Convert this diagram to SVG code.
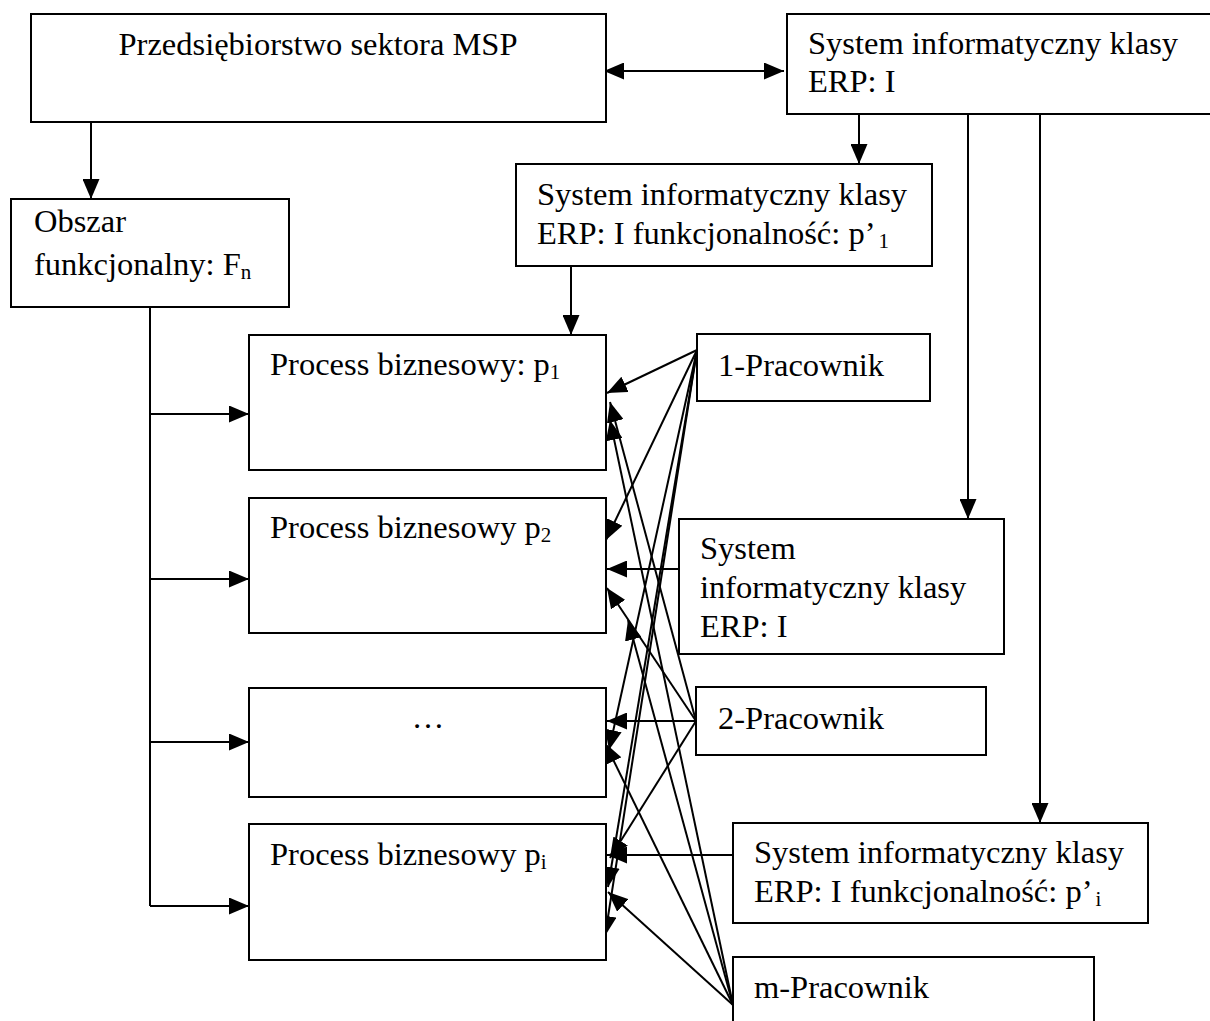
<svg xmlns="http://www.w3.org/2000/svg" width="1210" height="1021" viewBox="0 0 1210 1021">
<style>
.box{fill:#fff;stroke:#000;stroke-width:2}
.t{font-family:"Liberation Serif","Times New Roman",serif;font-size:32.5px;fill:#000}
.sub{font-size:21px}
.c{fill:none;stroke:#000;stroke-width:2}
</style>
<defs>
<marker id="ah" markerUnits="userSpaceOnUse" markerWidth="20" markerHeight="17" refX="20" refY="8.5" orient="auto-start-reverse" viewBox="0 0 20 17"><path d="M0,0 L20,8.5 L0,17 z" fill="#000"/></marker>
</defs>
<rect width="1210" height="1021" fill="#fff"/>

<g id="connectors">
<line class="c" x1="604" y1="71" x2="784" y2="71" marker-start="url(#ah)" marker-end="url(#ah)"/>
<line class="c" x1="91" y1="122" x2="91" y2="199" marker-end="url(#ah)"/>
<line class="c" x1="859" y1="114" x2="859" y2="164" marker-end="url(#ah)"/>
<line class="c" x1="571" y1="266" x2="571" y2="335" marker-end="url(#ah)"/>
<line class="c" x1="968" y1="114" x2="968" y2="519" marker-end="url(#ah)"/>
<line class="c" x1="1040" y1="114" x2="1040" y2="823" marker-end="url(#ah)"/>
<line class="c" x1="150" y1="307" x2="150" y2="906"/>
<line class="c" x1="150" y1="414" x2="249" y2="414" marker-end="url(#ah)"/>
<line class="c" x1="150" y1="579" x2="249" y2="579" marker-end="url(#ah)"/>
<line class="c" x1="150" y1="742" x2="249" y2="742" marker-end="url(#ah)"/>
<line class="c" x1="150" y1="906" x2="249" y2="906" marker-end="url(#ah)"/>
<line class="c" x1="679" y1="569" x2="607" y2="569" marker-end="url(#ah)"/>
<line class="c" x1="733" y1="855" x2="607" y2="855" marker-end="url(#ah)"/>
<line class="c" x1="697" y1="350" x2="607" y2="393" marker-end="url(#ah)"/>
<line class="c" x1="697" y1="350" x2="606" y2="540" marker-end="url(#ah)"/>
<line class="c" x1="697" y1="350" x2="609" y2="750" marker-end="url(#ah)"/>
<line class="c" x1="697" y1="350" x2="608" y2="887" marker-end="url(#ah)"/>
<line class="c" x1="697" y1="350" x2="605" y2="936" marker-end="url(#ah)"/>
<line class="c" x1="696" y1="721" x2="607" y2="721" marker-end="url(#ah)"/>
<line class="c" x1="696" y1="721" x2="607" y2="588" marker-end="url(#ah)"/>
<line class="c" x1="696" y1="721" x2="610" y2="402" marker-end="url(#ah)"/>
<line class="c" x1="696" y1="721" x2="610" y2="858" marker-end="url(#ah)"/>
<line class="c" x1="733" y1="1005" x2="610" y2="420" marker-end="url(#ah)"/>
<line class="c" x1="733" y1="1005" x2="628" y2="620" marker-end="url(#ah)"/>
<line class="c" x1="733" y1="1005" x2="605" y2="743" marker-end="url(#ah)"/>
<line class="c" x1="733" y1="1005" x2="608" y2="892" marker-end="url(#ah)"/>
</g>

<g id="msp">
<rect class="box" x="31" y="14" width="575" height="108"/>
<text class="t" x="318" y="55" text-anchor="middle">Przedsiębiorstwo sektora MSP</text>
</g>
<g id="erp">
<rect class="box" x="787" y="14" width="440" height="100"/>
<text class="t" x="808" y="54">System informatyczny klasy</text>
<text class="t" x="808" y="92">ERP: I</text>
</g>
<g id="erp-p1">
<rect class="box" x="516" y="164" width="416" height="102"/>
<text class="t" x="537" y="205">System informatyczny klasy</text>
<text class="t" x="537" y="244">ERP: I funkcjonalność: p’<tspan class="sub" dx="3" dy="4">1</tspan></text>
</g>
<g id="obszar">
<rect class="box" x="11" y="199" width="278" height="108"/>
<text class="t" x="34" y="232">Obszar</text>
<text class="t" x="34" y="275">funkcjonalny: F<tspan class="sub" dy="4">n</tspan></text>
</g>
<g id="p1">
<rect class="box" x="249" y="335" width="357" height="135"/>
<text class="t" x="270" y="375">Process biznesowy: p<tspan class="sub" dy="4">1</tspan></text>
</g>
<g id="p2">
<rect class="box" x="249" y="498" width="357" height="135"/>
<text class="t" x="270" y="538">Process biznesowy p<tspan class="sub" dy="4">2</tspan></text>
</g>
<g id="p3">
<rect class="box" x="249" y="688" width="357" height="109"/>
<text class="t" x="428" y="728" text-anchor="middle">…</text>
</g>
<g id="pi">
<rect class="box" x="249" y="824" width="357" height="136"/>
<text class="t" x="270" y="865">Process biznesowy p<tspan class="sub" dy="4">i</tspan></text>
</g>
<g id="prac1">
<rect class="box" x="697" y="334" width="233" height="67"/>
<text class="t" x="718" y="376">1-Pracownik</text>
</g>
<g id="erp2">
<rect class="box" x="679" y="519" width="325" height="135"/>
<text class="t" x="700" y="559">System</text>
<text class="t" x="700" y="598">informatyczny klasy</text>
<text class="t" x="700" y="637">ERP: I</text>
</g>
<g id="prac2">
<rect class="box" x="696" y="687" width="290" height="68"/>
<text class="t" x="718" y="729">2-Pracownik</text>
</g>
<g id="erp-pi">
<rect class="box" x="733" y="823" width="415" height="100"/>
<text class="t" x="754" y="863">System informatyczny klasy</text>
<text class="t" x="754" y="902">ERP: I funkcjonalność: p’<tspan class="sub" dx="3" dy="4">i</tspan></text>
</g>
<g id="pracm">
<rect class="box" x="733" y="957" width="361" height="80"/>
<text class="t" x="754" y="998">m-Pracownik</text>
</g>
</svg>
